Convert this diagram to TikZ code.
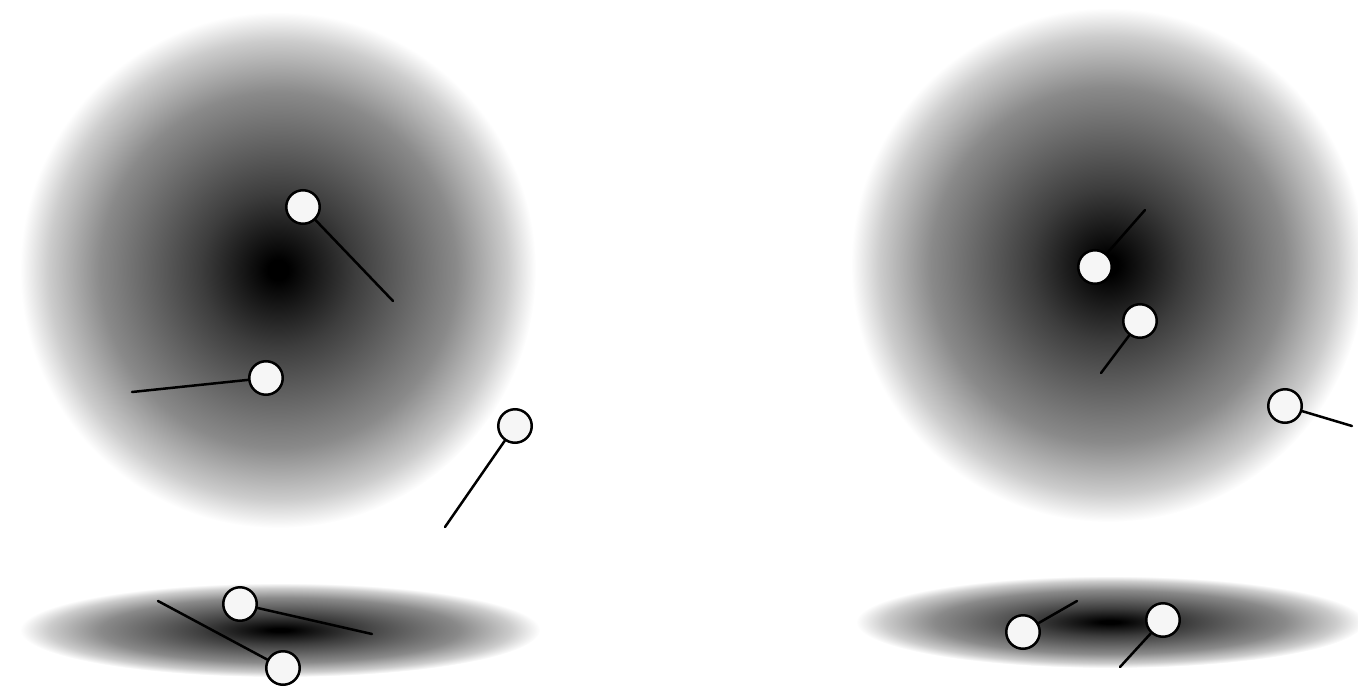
\documentclass[tikz,border=0pt]{standalone}
\usetikzlibrary{shapes.geometric}
\pgfdeclareradialshading{blob}{\pgfpoint{0bp}{0bp}}{color(0bp)=(black); color(1bp)=(black); color(7.5bp)=(black!76); color(17.25bp)=(black!46); color(22.25bp)=(black!20); color(25bp)=(white); color(50bp)=(white)}
\definecolor{pinfill}{HTML}{F6F6F6}
\tikzset{
  x=1pt, y=-1pt,
  lolli/.style={circle, draw=black, line width=2.5pt, fill=pinfill, minimum size=33.5pt, inner sep=0pt},
  stick/.style={line width=2.5pt, line cap=round},
  cloud/.style={shading=blob, draw=none}
}
\begin{document}
\begin{tikzpicture}
\useasboundingbox (0,0) rectangle (1358,688);
\clip (0,0) rectangle (1358,688);
% shaded clouds
\shade[cloud] (278,270) circle [radius=258];
\shade[cloud] (1108,265) circle [radius=257];
\shade[cloud] (280,630) ellipse [x radius=260, y radius=47];
\shade[cloud] (1110,622) ellipse [x radius=254, y radius=46];
% left cloud pins
\node[lolli] (a) at (303,207) {};
\coordinate (ae) at (393,301);
\draw[stick] (a) -- (ae);
\node[lolli] (b) at (266,378) {};
\coordinate (be) at (132,392);
\draw[stick] (b) -- (be);
\node[lolli] (c) at (515,426) {};
\coordinate (ce) at (445,527);
\draw[stick] (c) -- (ce);
% bottom-left ellipse pins
\node[lolli] (d) at (240,604) {};
\coordinate (de) at (372,634);
\draw[stick] (d) -- (de);
\node[lolli] (e) at (283,668) {};
\coordinate (ee) at (158,601);
\draw[stick] (e) -- (ee);
% right cloud pins
\node[lolli] (f) at (1095,267) {};
\coordinate (fe) at (1145,210);
\draw[stick] (f) -- (fe);
\node[lolli] (g) at (1140,321) {};
\coordinate (ge) at (1101,373);
\draw[stick] (g) -- (ge);
\node[lolli] (h) at (1285,406) {};
\coordinate (he) at (1352,426);
\draw[stick] (h) -- (he);
% bottom-right ellipse pins
\node[lolli] (i) at (1023,632) {};
\coordinate (ie) at (1077,601);
\draw[stick] (i) -- (ie);
\node[lolli] (j) at (1163,620) {};
\coordinate (je) at (1120,667);
\draw[stick] (j) -- (je);
\end{tikzpicture}
\end{document}
